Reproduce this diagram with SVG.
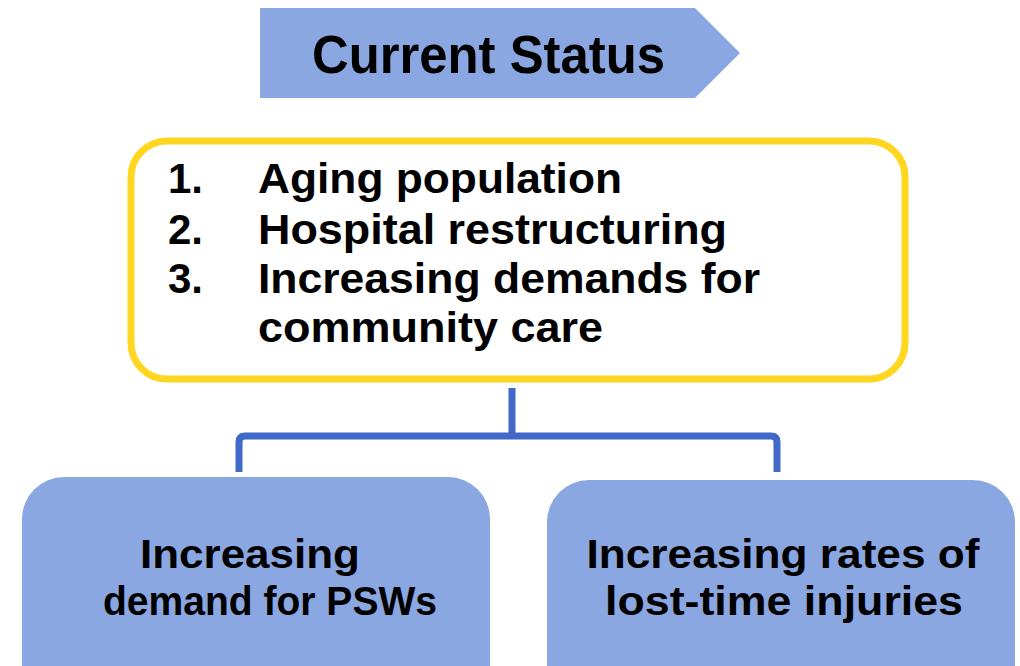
<svg xmlns="http://www.w3.org/2000/svg" width="1020" height="666" viewBox="0 0 1020 666">
<style>
.t{font-family:"Liberation Sans","Open Sans",sans-serif;font-weight:bold;fill:#000}
.blue{fill:#8BA7E1}
.conn{fill:none;stroke:#4169C8;stroke-width:7;stroke-linejoin:round}
</style>
<rect width="1020" height="666" fill="#fff"/>
<g id="header">
<polygon class="blue" points="260,8 695,8 740,53 695,98 260,98"/>
<text class="t" x="312" y="73" font-size="53" textLength="353" lengthAdjust="spacingAndGlyphs">Current Status</text>
</g>
<g id="status-box">
<rect x="131" y="141" width="774" height="238" rx="36" fill="#fff" stroke="#FFD620" stroke-width="7"/>
<g class="t" font-size="42">
<text x="168" y="193">1.</text>
<text x="258" y="193" textLength="364" lengthAdjust="spacingAndGlyphs">Aging population</text>
<text x="168" y="244">2.</text>
<text x="258" y="244" textLength="469" lengthAdjust="spacingAndGlyphs">Hospital restructuring</text>
<text x="168" y="293">3.</text>
<text x="258" y="293" textLength="502" lengthAdjust="spacingAndGlyphs">Increasing demands for</text>
<text x="258" y="342" textLength="345" lengthAdjust="spacingAndGlyphs">community care</text>
</g>
</g>
<g id="connectors">
<path class="conn" d="M512,388 V436"/>
<path class="conn" d="M239,472 V442 Q239,436 245,436 H771 Q777,436 777,442 V472"/>
</g>
<g id="psw-box">
<rect class="blue" x="22" y="477" width="468" height="230" rx="42"/>
<text class="t" x="250" y="568" font-size="41" text-anchor="middle" textLength="220" lengthAdjust="spacingAndGlyphs">Increasing</text>
<text class="t" x="270" y="615" font-size="41" text-anchor="middle" textLength="334" lengthAdjust="spacingAndGlyphs">demand for PSWs</text>
</g>
<g id="injury-box">
<rect class="blue" x="547" y="480" width="468" height="230" rx="42"/>
<text class="t" x="783" y="568" font-size="41" text-anchor="middle" textLength="393" lengthAdjust="spacingAndGlyphs">Increasing rates of</text>
<text class="t" x="784" y="615" font-size="41" text-anchor="middle" textLength="358" lengthAdjust="spacingAndGlyphs">lost-time injuries</text>
</g>
</svg>
